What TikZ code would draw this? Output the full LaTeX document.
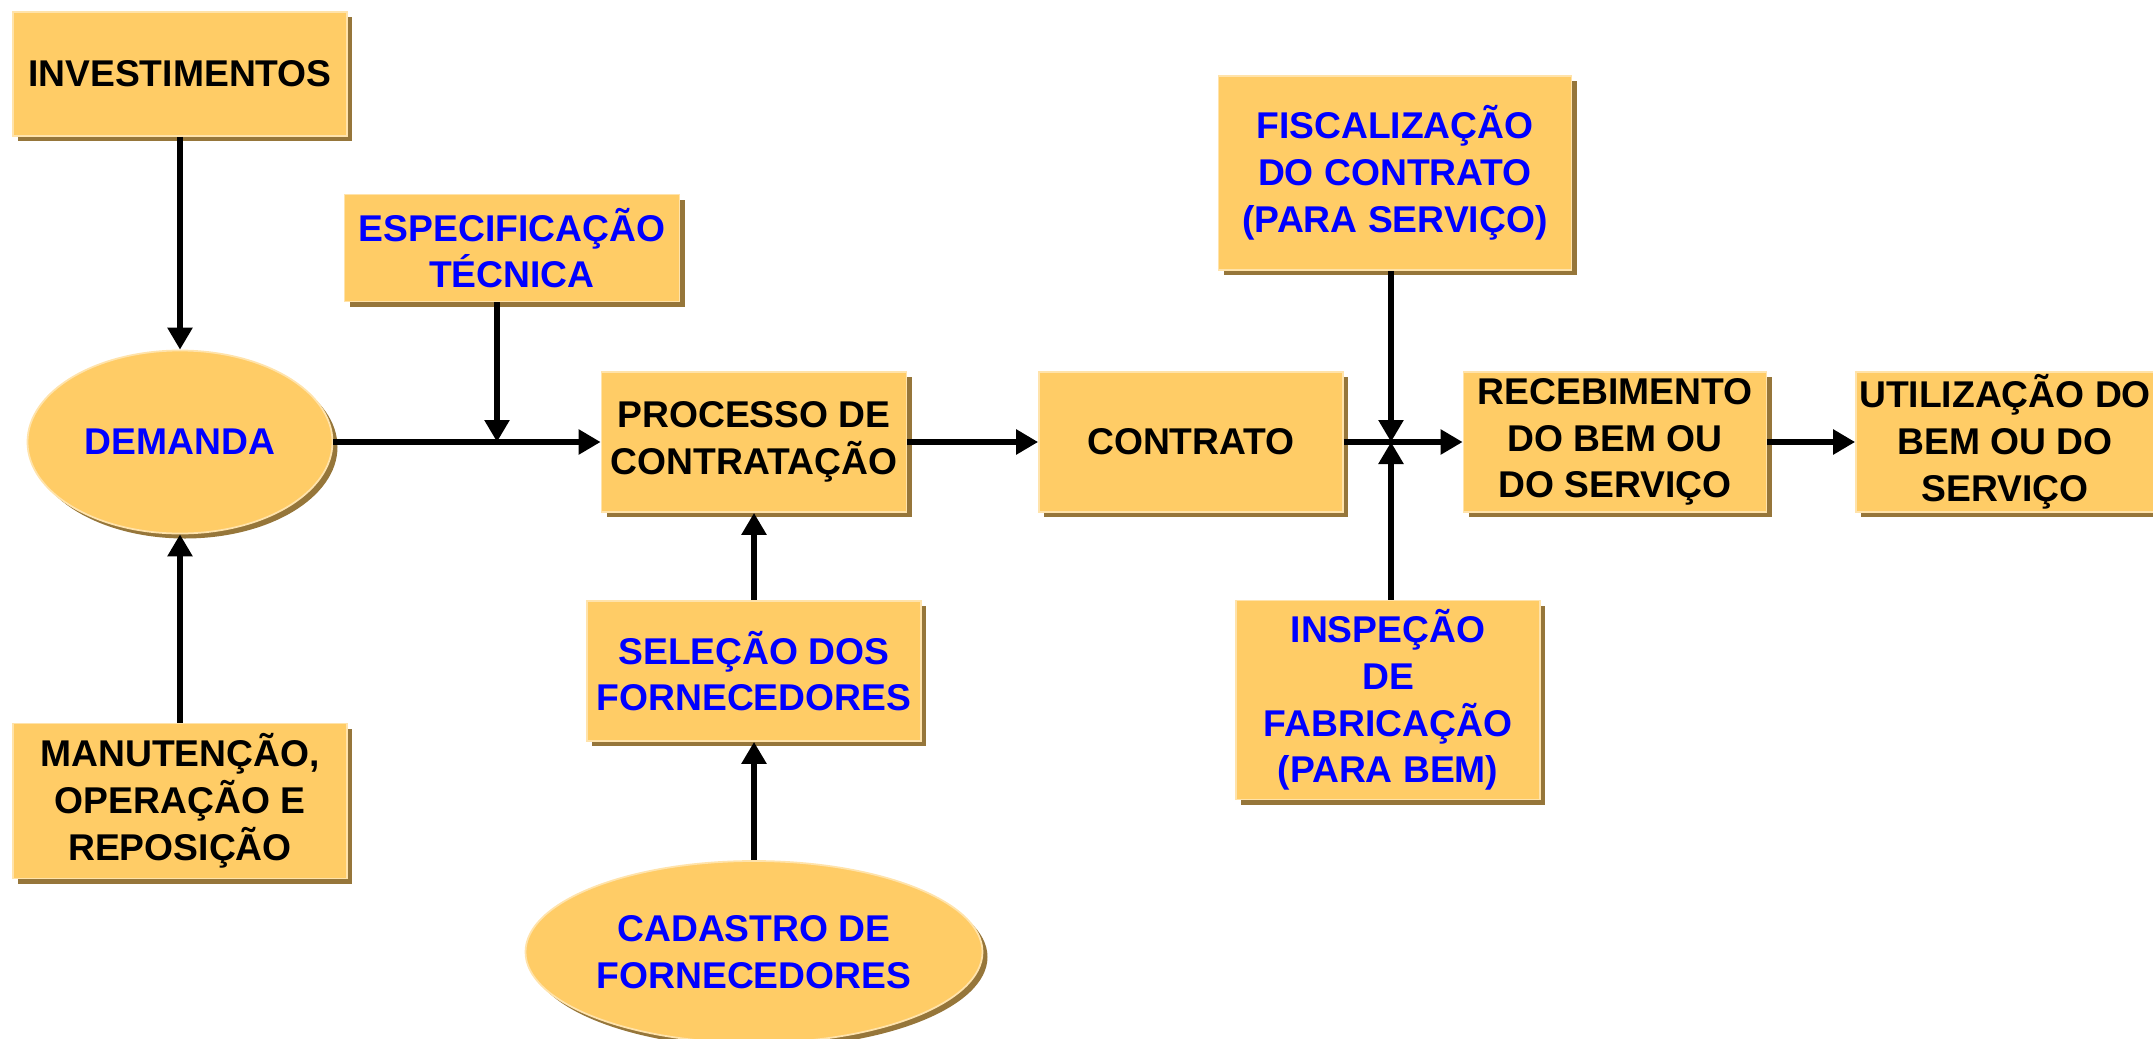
\documentclass[tikz,border=0pt]{standalone}
\usepackage{fontspec}
\setmainfont{Liberation Sans}
\usetikzlibrary{shapes.geometric,arrows.meta,shadows}
\definecolor{boxfill}{RGB}{255,204,102}
\definecolor{boxshade}{RGB}{150,118,58}
\definecolor{txtblue}{RGB}{0,0,255}

\begin{document}
\begin{tikzpicture}[node distance={40mm}, thick,
    box/.style = {fill=boxfill, draw=boxfill!55!white, line width=0.5pt, drop shadow={shadow xshift=0.05cm, shadow yshift=-0.05cm, fill=boxshade, opacity=1}, align=center, inner sep=0pt, font=\bfseries\fontsize{10.6}{13.3}\selectfont},
    oval/.style = {box, ellipse},
    arr/.style = {-{Triangle[length=2.2mm,width=2.4mm]}, line width=1.7pt}]
            \path[use as bounding box, clip] (0,0) rectangle (21.53,-10.39);
            \node[oval, minimum width=30.5mm, minimum height=18.3mm, text=txtblue] (n_1) at (1.80,-4.42) {DEMANDA};
            \node[box, minimum width=30.5mm, minimum height=14mm] (n_2) [right of=n_1, node distance=57.4mm] {PROCESSO DE\\CONTRATAÇÃO};
            \node[box, minimum width=30.4mm, minimum height=14mm] (n_3) [right of=n_2, node distance=43.7mm] {CONTRATO};
            \node[box, minimum width=30.3mm, minimum height=14mm] (n_4) [right of=n_3, node distance=42.4mm] {RECEBIMENTO\\DO BEM OU\\DO SERVIÇO};
            \node[box, minimum width=29.8mm, minimum height=14mm] (n_5) [right of=n_4, node distance=39mm] {UTILIZAÇÃO DO\\BEM OU DO\\SERVIÇO};
            \node[box, minimum width=33.4mm, minimum height=12.4mm] (n_6) [above of=n_1, node distance=36.8mm] {INVESTIMENTOS};
            \node[box, minimum width=33.4mm, minimum height=15.5mm] (n_7) [below of=n_1, node distance=35.9mm] {MANUTENÇÃO,\\OPERAÇÃO E\\REPOSIÇÃO};
            \node[box, minimum width=33.5mm, minimum height=10.7mm, text=txtblue] (n_8) at (5.12,-2.48) {ESPECIFICAÇÃO\\TÉCNICA};
            \node[box, minimum width=33.4mm, minimum height=14mm, text=txtblue] (n_9) [below of=n_2, node distance=22.9mm] {SELEÇÃO DOS\\FORNECEDORES};
            \node[oval, minimum width=45.7mm, minimum height=18.2mm, text=txtblue] (n_10) [below of=n_9, node distance=28.1mm] {CADASTRO DE\\FORNECEDORES};
            \node[box, minimum width=35.3mm, minimum height=19.4mm, text=txtblue] (n_11) at (13.95,-1.73) {FISCALIZAÇÃO\\DO CONTRATO\\(PARA SERVIÇO)};
            \node[box, minimum width=30.4mm, minimum height=19.9mm, text=txtblue] (n_12) at (13.88,-7.00) {INSPEÇÃO\\DE\\FABRICAÇÃO\\(PARA BEM)};
            \coordinate (c_1) at (4.97,-4.42);
            \coordinate (c_2) at (13.91,-4.42);

            \draw[arr] (n_6) -- (n_1);
            \draw[arr] (n_7) -- (n_1);
            \draw[arr] (n_1) -- (n_2);
            \draw[arr] (n_8.south -| c_1) -- (c_1);
            \draw[arr] (n_2) -- (n_3);
            \draw[arr] (n_9) -- (n_2);
            \draw[arr] (n_10) -- (n_9);
            \draw[arr] (n_3) -- (n_4);
            \draw[arr] (n_11.south -| c_2) -- (c_2);
            \draw[arr] (n_12.north -| c_2) -- (c_2);
            \draw[arr] (n_4) -- (n_5);
        \end{tikzpicture}
\end{document}
